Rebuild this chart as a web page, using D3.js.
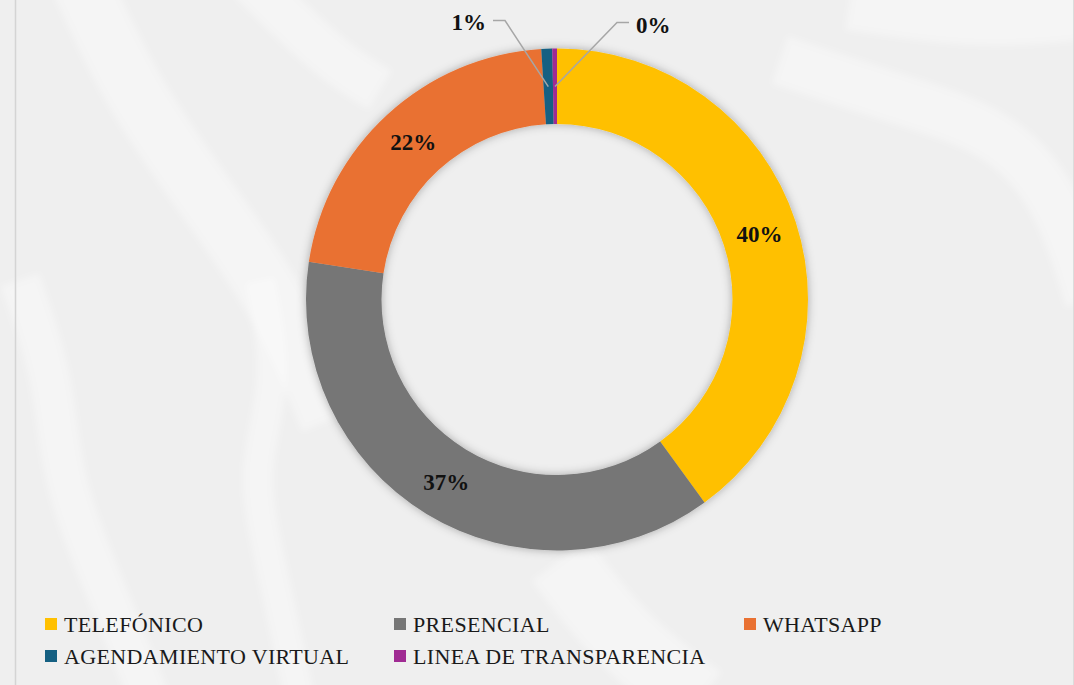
<!DOCTYPE html>
<html>
<head>
<meta charset="utf-8">
<script src="https://cdn.jsdelivr.net/npm/d3@7"></script>
<style>
  html, body { margin: 0; padding: 0; background: #efefef; }
  svg { display: block; }
</style>
</head>
<body>
<script>
  "use strict"

  // Data
  const categories = ['TELEFÓNICO', 'PRESENCIAL', 'WHATSAPP', 'AGENDAMIENTO VIRTUAL', 'LINEA DE TRANSPARENCIA']
  const values = [40.0, 37.4, 21.6, 0.7, 0.3]
  const colors = ['#FFC000', '#767676', '#E97132', '#156082', '#A02B93']
  // labels of the thin slices sit outside, on a leader line (dx, dy from chart centre)
  const outsideLabels = { 3: { x: -52, y: -279, dir: -1 }, 4: { x: 60, y: -277, dir: 1 } }

  // Layout
  const width = 1074, height = 685
  const cx = 557, cy = 299.5
  const outer_r = 251, inner_r = 175.5
  const font = '"Liberation Serif", "Times New Roman", serif'

  const svg = d3.select('body').append('svg')
    .attr('width', width)
    .attr('height', height)

  const defs = svg.append('defs')
  const shadow = defs.append('filter')
    .attr('id', 'shadow')
    .attr('x', '-20%').attr('y', '-20%')
    .attr('width', '140%').attr('height', '140%')
  shadow.append('feDropShadow')
    .attr('dx', 0).attr('dy', 0)
    .attr('stdDeviation', 5)
    .attr('flood-color', '#000')
    .attr('flood-opacity', 0.3)
  defs.append('filter')
    .attr('id', 'soft')
    .append('feGaussianBlur')
      .attr('stdDeviation', 3)

  /****** BACKGROUND ******/
  svg.append('rect')
    .attr('width', width).attr('height', height)
    .attr('fill', '#efefef')

  // faint white swirls of the slide background
  const swirls = [
    { w: 60, pts: [[80, -20], [130, 90], [200, 190], [280, 300], [330, 420]] },
    { w: 40, pts: [[20, 280], [55, 380], [60, 480], [110, 600], [150, 700]] },
    { w: 30, pts: [[260, 280], [280, 380], [250, 470], [270, 560], [300, 700]] },
    { w: 50, pts: [[780, 60], [900, 100], [1000, 130], [1060, 200], [1090, 300]] },
    { w: 45, pts: [[250, -20], [330, 60], [380, 90]] },
    { w: 70, pts: [[560, 560], [620, 640], [700, 700]] },
    { w: 60, pts: [[850, 0], [980, 20], [1080, 10]] }
  ]
  const swirl_line = d3.line().curve(d3.curveBasis)
  svg.append('g')
    .attr('filter', 'url(#soft)')
    .selectAll('path')
    .data(swirls)
    .enter()
    .append('path')
      .attr('d', d => swirl_line(d.pts))
      .attr('fill', 'none')
      .attr('stroke', '#ffffff')
      .attr('stroke-opacity', 0.35)
      .attr('stroke-width', d => d.w)

  // slide frame lines
  svg.append('line')
    .attr('x1', 15.5).attr('x2', 15.5)
    .attr('y1', 0).attr('y2', height)
    .attr('stroke', '#d4d4d4').attr('stroke-width', 1.5)
  svg.append('line')
    .attr('x1', 1073.5).attr('x2', 1073.5)
    .attr('y1', 0).attr('y2', height)
    .attr('stroke', '#dcdcdc').attr('stroke-width', 1)

  /****** DONUT ******/
  const pie = d3.pie().sort(null).value(d => d)
  const arcs = pie(values)
  const arc = d3.arc().innerRadius(inner_r).outerRadius(outer_r)
  const label_arc = d3.arc().innerRadius(213).outerRadius(213)

  const chart = svg.append('g')
    .attr('transform', `translate(${cx},${cy})`)

  chart.append('g')
    .attr('filter', 'url(#shadow)')
    .selectAll('path')
    .data(arcs)
    .enter()
    .append('path')
      .attr('d', arc)
      .attr('fill', (d, i) => colors[i])

  const fmt = v => Math.round(v) + '%'

  // inside labels
  chart.append('g')
    .selectAll('text')
    .data(arcs.filter((d, i) => !outsideLabels[i]))
    .enter()
    .append('text')
      .attr('transform', d => `translate(${label_arc.centroid(d)})`)
      .attr('text-anchor', 'middle')
      .attr('dy', '0.35em')
      .style('font-family', font)
      .style('font-weight', 'bold')
      .style('font-size', '23px')
      .attr('fill', '#111')
      .text(d => fmt(d.value))

  // outside labels with leader lines
  arcs.forEach((d, i) => {
    const o = outsideLabels[i]
    if (!o) return
    const start = label_arc.centroid(d)
    const elbow = [o.x, o.y]
    const end = [o.x + o.dir * 12, o.y]
    chart.append('polyline')
      .attr('points', [start, elbow, end].map(p => p.join(',')).join(' '))
      .attr('fill', 'none')
      .attr('stroke', '#a6a6a6')
      .attr('stroke-width', 1.5)
    chart.append('text')
      .attr('x', end[0] + o.dir * 7)
      .attr('y', end[1] + (o.dir < 0 ? 1 : 2))
      .attr('text-anchor', o.dir < 0 ? 'end' : 'start')
      .attr('dy', '0.35em')
      .style('font-family', font)
      .style('font-weight', 'bold')
      .style('font-size', '23px')
      .attr('fill', '#111')
      .text(fmt(d.value))
  })

  /****** LEGEND ******/
  const legend_x = d3.scaleOrdinal().domain([0, 1, 2]).range([45, 394, 744])
  const legend_y = d3.scaleOrdinal().domain([0, 1]).range([624, 656])

  const legend_items = svg.append('g')
    .selectAll('g')
    .data(categories)
    .enter()
    .append('g')
      .attr('transform', (d, i) => `translate(${legend_x(i % 3)},${legend_y(Math.floor(i / 3))})`)
  legend_items.append('rect')
    .attr('x', 0).attr('y', -6)
    .attr('width', 12).attr('height', 12)
    .attr('fill', (d, i) => colors[i])
  legend_items.append('text')
    .attr('x', 19)
    .attr('dy', '0.35em')
    .style('font-family', font)
    .style('font-size', '22px')
    .style('letter-spacing', '0.35px')
    .attr('fill', '#1a1a1a')
    .text(d => d)
</script>
</body>
</html>
